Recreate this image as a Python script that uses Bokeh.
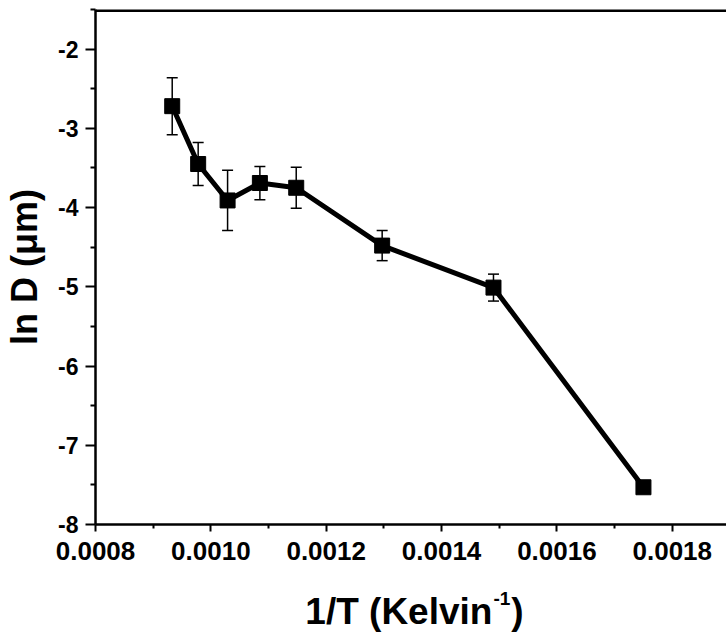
from bokeh.plotting import figure
from bokeh.layouts import column
from bokeh.models import ColumnDataSource, Whisker, TeeHead, FixedTicker, Span, Range1d
from bokeh.core.properties import value
from bokeh.embed import file_html
from bokeh.resources import INLINE

# ---- data ----
inv_T = [0.000933, 0.000978, 0.001029, 0.001085, 0.001148, 0.001297, 0.001490, 0.001750]
ln_D = [-2.72, -3.45, -3.91, -3.69, -3.75, -4.48, -5.01, -7.53]
ln_D_err = [0.36, 0.27, 0.38, 0.21, 0.26, 0.19, 0.17, 0.0]

x_ticks = [0.0008, 0.0010, 0.0012, 0.0014, 0.0016, 0.0018]
x_tick_labels = ["0.0008", "0.0010", "0.0012", "0.0014", "0.0016", "0.0018"]
x_minor = [0.0009, 0.0011, 0.0013, 0.0015, 0.0017, 0.0019]
y_ticks = [-8, -7, -6, -5, -4, -3, -2]
y_tick_labels = ["-8", "-7", "-6", "-5", "-4", "-3", "-2"]
y_minor = [-7.5, -6.5, -5.5, -4.5, -3.5, -2.5, -1.5]

x_title_main = "1/T (Kelvin"
x_title_sup = "-1"
x_title_end = ")"
y_title = "ln D (\u03bcm)"

X_START, X_END = 0.0008, 0.001894
Y_START, Y_END = -8, -1.5

FONT = "Liberation Sans"

upper = [v + e for v, e in zip(ln_D, ln_D_err)]
lower = [v - e for v, e in zip(ln_D, ln_D_err)]
src = ColumnDataSource(dict(x=inv_T, y=ln_D, upper=upper, lower=lower))

W = 726
LEFT = 95
H_MAIN, H_TITLE = 580, 53
p = figure(width=W, height=H_MAIN, x_range=(X_START, X_END), y_range=(Y_START, Y_END),
           output_backend="svg", toolbar_location=None,
           min_border_left=LEFT, min_border_right=0, min_border_top=9, min_border_bottom=H_MAIN - 524)

p.grid.visible = False
p.outline_line_color = None
p.background_fill_color = "white"
p.border_fill_color = "white"

p.line("x", "y", source=src, line_color="black", line_width=5)
p.scatter("x", "y", source=src, marker="square", size=15, fill_color="black", line_color="black")

w = Whisker(source=src, base="x", upper="upper", lower="lower", line_color="black", line_width=1.5,
            upper_head=TeeHead(size=11, line_color="black", line_width=1.5),
            lower_head=TeeHead(size=11, line_color="black", line_width=1.5))
p.add_layout(w)

p.add_layout(Span(location=Y_END, dimension="width", line_color="black", line_width=5))

xa = p.xaxis[0]
xa.ticker = FixedTicker(ticks=x_ticks, minor_ticks=x_minor)
xa.major_label_overrides = {t: l for t, l in zip(x_ticks, x_tick_labels)}
ya = p.yaxis[0]
ya.ticker = FixedTicker(ticks=y_ticks, minor_ticks=y_minor)
ya.major_label_overrides = {t: l for t, l in zip(y_ticks, y_tick_labels)}

for ax in (xa, ya):
    ax.axis_line_color = "black"
    ax.axis_line_width = 2.5
    ax.major_tick_line_color = "black"
    ax.major_tick_line_width = 2
    ax.minor_tick_line_color = "black"
    ax.minor_tick_line_width = 2
    ax.major_tick_in = 0
    ax.minor_tick_in = 0
    ax.major_label_text_font = FONT
    ax.major_label_text_font_style = "bold"
    ax.major_label_text_color = "black"
    ax.axis_label_text_font = FONT
    ax.axis_label_text_font_style = "bold"
    ax.axis_label_text_color = "black"

xa.major_label_text_font_size = "26px"
xa.major_tick_out = 7
xa.minor_tick_out = 4
xa.major_label_standoff = 10

ya.major_label_text_font_size = "23px"
ya.major_tick_out = 10
ya.minor_tick_out = 5
ya.major_label_standoff = 7
ya.axis_label = y_title
ya.axis_label_text_font_size = "36px"
ya.axis_label_standoff = 10

# ---- x-axis title strip with a real superscript (coordinates = page pixels) ----
t = figure(width=W, height=H_TITLE, x_range=Range1d(LEFT, W), y_range=Range1d(0, H_TITLE),
           output_backend="svg", toolbar_location=None,
           x_axis_location=None, y_axis_location=None,
           min_border_left=LEFT, min_border_right=0, min_border_top=0, min_border_bottom=0)
t.grid.visible = False
t.outline_line_color = None
t.background_fill_color = "white"
t.border_fill_color = "white"

main_size, sup_size = 37, 19
main_w = 5.057 * main_size
sup_w = 0.889 * sup_size
end_w = 0.333 * main_size
center = 413
x0 = center - (main_w + sup_w + end_w) / 2
base_y = 22
sup_y = 35
common = dict(text_font=value(FONT), text_font_style="bold", text_color="black",
              text_align="left", text_baseline="alphabetic")
t.text(x=[x0], y=[base_y], text=[x_title_main], text_font_size=f"{main_size}px", **common)
t.text(x=[x0 + main_w + 1], y=[sup_y], text=[x_title_sup], text_font_size=f"{sup_size}px", **common)
t.text(x=[x0 + main_w + sup_w + 2], y=[base_y], text=[x_title_end], text_font_size=f"{main_size}px", **common)

layout = column(p, t, spacing=0)
open("out.html", "w").write(file_html(layout, INLINE))
